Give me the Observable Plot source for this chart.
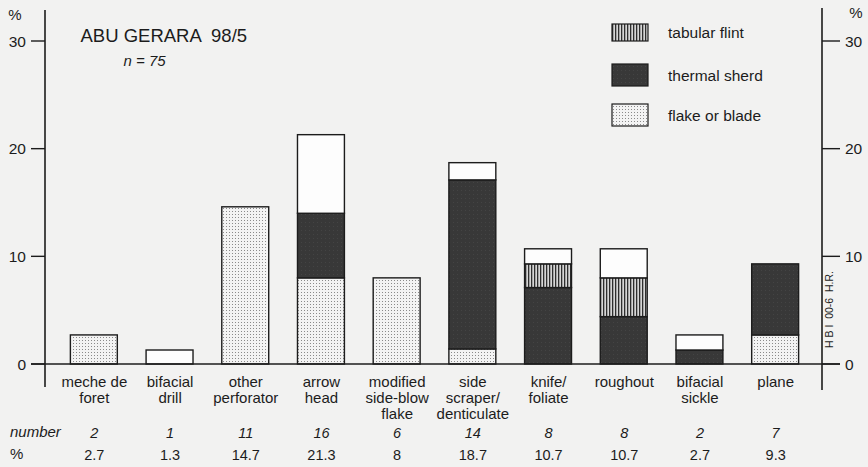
<!DOCTYPE html>
<html><head><meta charset="utf-8">
<script src="https://cdn.jsdelivr.net/npm/d3@7"></script>
<script src="https://cdn.jsdelivr.net/npm/@observablehq/plot@0.6"></script>
<style>
html,body{margin:0;padding:0;background:#f2f2f1;}
svg{font-family:"Liberation Sans",Arial,sans-serif;}
</style></head><body><div id="chart"></div>
<script>
// ---- data ----
const categories = ["meche de\nforet", "bifacial\ndrill", "other\nperforator", "arrow\nhead", "modified\nside-blow\nflake", "side\nscraper/\ndenticulate", "knife/\nfoliate", "roughout", "bifacial\nsickle", "plane"];
const numbers = [2, 1, 11, 16, 6, 14, 8, 8, 2, 7];
const percentLabels = ["2.7", "1.3", "14.7", "21.3", "8", "18.7", "10.7", "10.7", "2.7", "9.3"];
// stacked segments (% of n), bottom to top
const flakeOrBlade = [2.7, 0, 14.6, 8.0, 8.0, 1.4, 0, 0, 0, 2.7];
const thermalSherd = [0, 0, 0, 6.0, 0, 15.7, 7.1, 4.4, 1.3, 6.6];
const tabularFlint = [0, 0, 0, 0, 0, 0, 2.2, 3.6, 0, 0];
const unassigned   = [0, 1.3, 0, 7.3, 0, 1.6, 1.4, 2.7, 1.4, 0];
const yTicks = [0, 10, 20, 30];
const legendLabels = ["tabular flint", "thermal sherd", "flake or blade"];
const title = "ABU GERARA \u00a098/5";
const subtitle = "n = 75";
const sideNote = "H B I  00-6  H.R.";

// ---- build table ----
const types = ["flake or blade", "thermal sherd", "tabular flint", "unassigned"];
const seriesByType = {"flake or blade": flakeOrBlade, "thermal sherd": thermalSherd, "tabular flint": tabularFlint, "unassigned": unassigned};
const fills = {"flake or blade": "url(#pat-dots)", "thermal sherd": "url(#pat-dark)", "tabular flint": "url(#pat-stripes)", "unassigned": "#fdfdfd"};
const rows = [];
categories.forEach((c, i) => types.forEach(t => {
  const v = seriesByType[t][i];
  if (v > 0) rows.push({cat: c, type: t, value: v});
}));
const catData = categories.map((c, i) => ({cat: c, n: String(numbers[i]), pct: percentLabels[i]}));

const W = 868, H = 467;
const ink = "#1c1c1c";

function axesMark(index, scales, values, dims) {
  const y = scales.y;
  const g = d3.create("svg:g").attr("fill", ink).attr("stroke", ink).attr("text-anchor", "start");
  const xl = dims.marginLeft - 11, xr = dims.width - dims.marginRight + 9;
  const y0 = y(0), yTop = y(30);
  g.append("line").attr("x1", xl).attr("x2", xl).attr("y1", yTop - 31).attr("y2", y0 + 23).attr("stroke-width", 1.6);
  g.append("line").attr("x1", xr).attr("x2", xr).attr("y1", yTop - 33).attr("y2", y0 + 26).attr("stroke-width", 1.6);
  g.append("line").attr("x1", xl - 14).attr("x2", xr + 18).attr("y1", y0).attr("y2", y0).attr("stroke-width", 1.6);
  yTicks.forEach(t => {
    g.append("line").attr("x1", xl - 14).attr("x2", xl).attr("y1", y(t)).attr("y2", y(t)).attr("stroke-width", 1.4);
    g.append("line").attr("x1", xr).attr("x2", xr + 18).attr("y1", y(t)).attr("y2", y(t)).attr("stroke-width", 1.4);
    g.append("text").attr("x", xl - 19).attr("y", y(t)).attr("dy", "0.36em").attr("text-anchor", "end").attr("stroke", "none").attr("font-size", 15.5).text(t);
    g.append("text").attr("x", xr + 23).attr("y", y(t)).attr("dy", "0.36em").attr("text-anchor", "start").attr("stroke", "none").attr("font-size", 15.5).text(t);
  });
  g.append("text").attr("x", xl - 30).attr("y", yTop - 21).attr("text-anchor", "middle").attr("stroke", "none").attr("font-size", 15).text("%");
  g.append("text").attr("x", xr + 34).attr("y", yTop - 23).attr("text-anchor", "middle").attr("stroke", "none").attr("font-size", 15).text("%");
  g.append("text").attr("x", 10).attr("y", y0 + 73).attr("text-anchor", "start").attr("stroke", "none").attr("font-size", 15).attr("font-style", "italic").text("number");
  g.append("text").attr("x", 10).attr("y", y0 + 95).attr("text-anchor", "start").attr("stroke", "none").attr("font-size", 15).text("%");
  return g.node();
}

function legendMark(index, scales, values, dims) {
  const g = d3.create("svg:g").attr("text-anchor", "start");
  const x0 = dims.width - 256;
  const swatch = [{y: 24, h: 17, f: "url(#pat-stripes)"}, {y: 64, h: 22, f: "url(#pat-dark)"}, {y: 104, h: 22, f: "url(#pat-dots)"}];
  legendLabels.forEach((lab, i) => {
    const s = swatch[i];
    g.append("rect").attr("x", x0).attr("y", s.y).attr("width", 36).attr("height", s.h).attr("fill", s.f).attr("stroke", ink).attr("stroke-width", 1.2);
    g.append("text").attr("x", x0 + 56).attr("y", s.y + s.h / 2).attr("dy", "0.36em").attr("text-anchor", "start").attr("font-size", 15.5).attr("fill", ink).text(lab);
  });
  return g.node();
}

const chart = Plot.plot({
  width: W, height: H,
  marginTop: 41, marginBottom: 103, marginLeft: 56, marginRight: 55,
  style: {background: "transparent", fontFamily: "'Liberation Sans', Arial, sans-serif", fontSize: "15px", color: ink, overflow: "visible"},
  x: {domain: categories, paddingInner: 0.38, paddingOuter: 0.19, round: false, axis: null},
  y: {domain: [0, 30], axis: null},
  color: {type: "identity"},
  marks: [
    Plot.barY(rows, Plot.stackY({x: "cat", y: "value", fill: d => fills[d.type], z: "type", stroke: ink, strokeWidth: 1.4})),
    axesMark,
    legendMark,
    Plot.text(catData, {x: "cat", text: "cat", frameAnchor: "bottom", lineAnchor: "top", dy: 11, lineHeight: 1.06, fontSize: 15, fill: ink}),
    Plot.text(catData, {x: "cat", text: "n", frameAnchor: "bottom", lineAnchor: "bottom", dy: 73, fontSize: 14.5, fontStyle: "italic", fill: ink}),
    Plot.text(catData, {x: "cat", text: "pct", frameAnchor: "bottom", lineAnchor: "bottom", dy: 95, fontSize: 14.5, fill: ink}),
    Plot.text([title], {text: d => d, frameAnchor: "top-left", textAnchor: "start", lineAnchor: "bottom", dx: 24, dy: 0, fontSize: 18.5, fill: ink}),
    Plot.text([subtitle], {text: d => d, frameAnchor: "top-left", textAnchor: "start", lineAnchor: "bottom", dx: 67, dy: 24, fontSize: 15, fontStyle: "italic", fill: ink}),
    Plot.text([sideNote], {text: d => d, frameAnchor: "bottom-right", rotate: -90, textAnchor: "middle", dx: 19, dy: -55, fontSize: 10.5, fill: ink})
  ]
});

const svg = d3.select(chart);
const defs = svg.insert("defs", ":first-child");
const pd = defs.append("pattern").attr("id", "pat-dots").attr("patternUnits", "userSpaceOnUse").attr("width", 3).attr("height", 3);
pd.append("rect").attr("width", 3).attr("height", 3).attr("fill", "#f3f3f3");
pd.append("rect").attr("x", 1).attr("y", 1).attr("width", 1).attr("height", 1).attr("fill", "#8a8a8a");
const pk = defs.append("pattern").attr("id", "pat-dark").attr("patternUnits", "userSpaceOnUse").attr("width", 4).attr("height", 4);
pk.append("rect").attr("width", 4).attr("height", 4).attr("fill", "#383838");
pk.append("rect").attr("x", 1).attr("y", 2).attr("width", 1).attr("height", 1).attr("fill", "#444");
const ps = defs.append("pattern").attr("id", "pat-stripes").attr("patternUnits", "userSpaceOnUse").attr("width", 3).attr("height", 3);
ps.append("rect").attr("width", 3).attr("height", 3).attr("fill", "#d6d6d6");
ps.append("rect").attr("x", 0).attr("width", 1.3).attr("height", 3).attr("fill", "#2e2e2e");

document.getElementById("chart").appendChild(chart);
</script>
</body></html>
